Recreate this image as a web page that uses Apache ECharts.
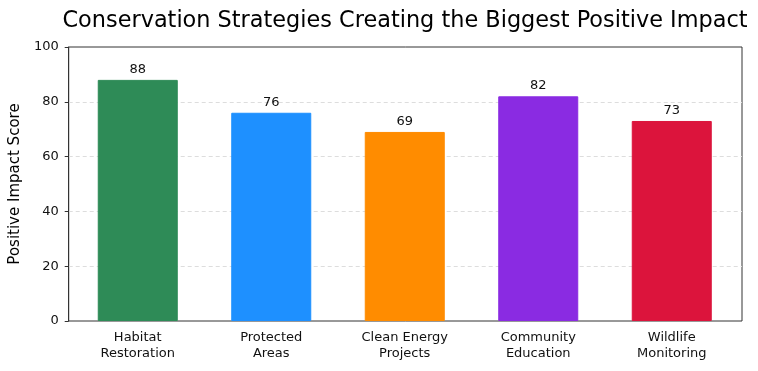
<!DOCTYPE html>
<html>
<head>
<meta charset="utf-8">
<script src="https://cdn.jsdelivr.net/npm/echarts@6/dist/echarts.min.js"></script>
<style>
  html, body { margin: 0; padding: 0; background: #fff; }
  #chart { width: 758px; height: 371px; }
</style>
</head>
<body>
<div id="chart"></div>
<script>
// data
const categories = ['Habitat\nRestoration', 'Protected\nAreas', 'Clean Energy\nProjects', 'Community\nEducation', 'Wildlife\nMonitoring'];
const scores = [88, 76, 69, 82, 73];
const barColors = ['#2E8B57', '#1E90FF', '#FF8C00', '#8A2BE2', '#DC143C'];
const yTicks = [0, 20, 40, 60, 80, 100];

const font = 'DejaVu Sans';
const yMin = yTicks[0];
const yMax = yTicks[yTicks.length - 1];
const chart = echarts.init(document.getElementById('chart'));

chart.setOption({
  animation: false,
  title: {
    text: 'Conservation Strategies Creating the Biggest Positive Impact',
    left: 400,
    top: 5,
    textAlign: 'center',
    textStyle: { fontFamily: font, fontSize: 22.4, fontWeight: 'normal', color: '#000' }
  },
  // grid 0 = frame + y axis, grid 1 = slightly inset band for the bars
  grid: [
    { left: 67, right: 16, top: 47, bottom: 50, show: true, borderColor: '#333', borderWidth: 1 },
    { left: 71, right: 19.5, top: 47, bottom: 50 }
  ],
  xAxis: [
    { type: 'category', gridIndex: 0, data: [], show: false },
    {
      type: 'category',
      gridIndex: 1,
      data: categories,
      axisLine: { show: false },
      axisTick: { alignWithLabel: true, length: 4, lineStyle: { color: '#333' } },
      axisLabel: { fontFamily: font, fontSize: 13, color: '#111', margin: 9, lineHeight: 16 }
    }
  ],
  yAxis: [
    {
      type: 'value',
      gridIndex: 0,
      min: yMin,
      max: yMax,
      interval: 20,
      name: 'Positive Impact Score',
      nameLocation: 'middle',
      nameGap: 42,
      nameTextStyle: { fontFamily: font, fontSize: 15, color: '#000' },
      axisLine: { show: true, lineStyle: { color: '#333' } },
      axisTick: { show: true, length: 4, lineStyle: { color: '#333' } },
      axisLabel: { fontFamily: font, fontSize: 13, color: '#111', margin: 10 },
      splitLine: { show: true, showMinLine: false, showMaxLine: false, lineStyle: { color: '#ddd', type: [4, 3], width: 1 } }
    },
    { type: 'value', gridIndex: 1, min: yMin, max: yMax, show: false, splitLine: { show: false } }
  ],
  series: [{
    type: 'bar',
    xAxisIndex: 1,
    yAxisIndex: 1,
    barWidth: 80,
    data: scores.map((v, i) => ({
      value: v,
      itemStyle: { color: barColors[i], borderColor: barColors[i], borderWidth: 1 }
    })),
    label: {
      show: true,
      position: 'top',
      distance: 4,
      fontFamily: font,
      fontSize: 13,
      color: '#111'
    }
  }]
});
</script>
</body>
</html>
